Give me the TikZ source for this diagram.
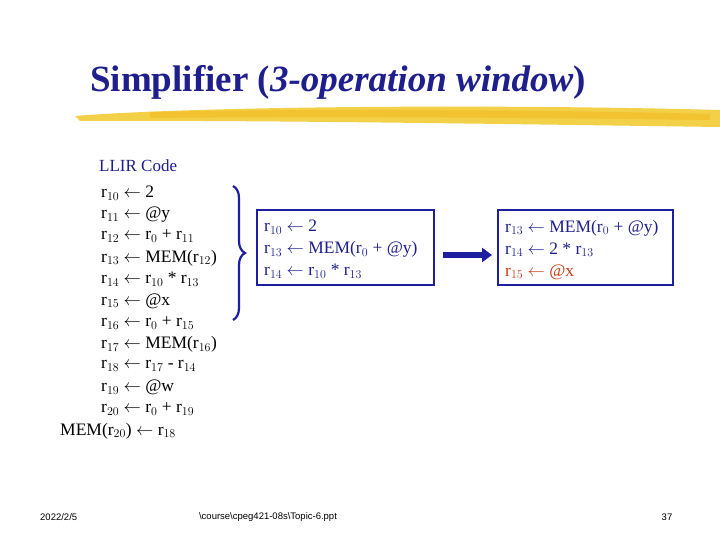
\documentclass[tikz,border=0pt]{standalone}
\usepackage{fontspec}
\setmainfont{Liberation Serif}
\newfontfamily\footfont{Liberation Sans}
\usetikzlibrary{arrows.meta,decorations.pathreplacing}
\definecolor{navy}{RGB}{30,30,140}
\definecolor{boxblue}{RGB}{30,30,160}
\definecolor{ored}{RGB}{200,60,20}
\definecolor{brush}{RGB}{240,200,40}
\tikzset{
 code/.style={anchor=west,font=\fontsize{17.5}{18}\selectfont,inner sep=0pt,text=black},
 btext/.style={font=\fontsize{17.5}{22}\selectfont,text=navy,align=left,inner sep=0pt,anchor=north west},
 frame/.style={draw=boxblue,line width=2pt},
 foot/.style={font=\footfont\fontsize{9.5}{10}\selectfont,inner sep=0pt}
}
\newcommand{\la}{$\leftarrow$}
\begin{document}
\begin{tikzpicture}[x=1pt,y=-1pt]
\useasboundingbox[fill=white] (0,0) rectangle (720,540);
\node[font=\bfseries\fontsize{37}{40}\selectfont,text=navy] (title) at (338,82) {Simplifier (\textit{3-operation window})};
\fill[brush,opacity=0.85] (75,116) .. controls (200,106) and (500,104) .. (720,110) -- (720,127) .. controls (500,124) and (250,120) .. (80,121) -- cycle;
\fill[brush!80!orange,opacity=0.6] (150,112) .. controls (350,108) and (550,110) .. (710,114) -- (710,120) .. controls (550,118) and (350,116) .. (150,118) -- cycle;
\node[anchor=west,font=\fontsize{17}{18}\selectfont,text=navy,inner sep=0pt] (llir) at (99,166) {LLIR Code};
\node[code] (c1) at (101,193.0) {r$_{10}$ \la{} 2};
\node[code] (c2) at (101,214.6) {r$_{11}$ \la{} @y};
\node[code] (c3) at (101,236.3) {r$_{12}$ \la{} r$_0$ + r$_{11}$};
\node[code] (c4) at (101,257.9) {r$_{13}$ \la{} MEM(r$_{12}$)};
\node[code] (c5) at (101,279.5) {r$_{14}$ \la{} r$_{10}$ * r$_{13}$};
\node[code] (c6) at (101,301.2) {r$_{15}$ \la{} @x};
\node[code] (c7) at (101,322.8) {r$_{16}$ \la{} r$_0$ + r$_{15}$};
\node[code] (c8) at (101,344.4) {r$_{17}$ \la{} MEM(r$_{16}$)};
\node[code] (c9) at (101,366.1) {r$_{18}$ \la{} r$_{17}$ - r$_{14}$};
\node[code] (c10) at (101,387.7) {r$_{19}$ \la{} @w};
\node[code] (c11) at (101,409.3) {r$_{20}$ \la{} r$_0$ + r$_{19}$};
\node[code] (c12) at (60,431.0) {MEM(r$_{20}$) \la{} r$_{18}$};
\draw[boxblue,line width=2.2pt,decorate,decoration={brace,amplitude=12pt}] (233,186) -- (233,320);
\node[frame,minimum width=177pt,minimum height=75pt,inner sep=0pt] (b1) at (345.5,247.5) {};
\node[btext] at (264,220) {r$_{10}$ \la{} 2\\ r$_{13}$ \la{} MEM(r$_0$ + @y)\\ r$_{14}$ \la{} r$_{10}$ * r$_{13}$};
\node[frame,minimum width=175pt,minimum height=75pt,inner sep=0pt] (b2) at (585.5,247.5) {};
\node[btext] at (505,220) {r$_{13}$ \la{} MEM(r$_0$ + @y)\\ r$_{14}$ \la{} 2 * r$_{13}$\\ \textcolor{ored}{r$_{15}$ \la{} @x}};
\draw[boxblue,line width=6pt,-{Triangle[length=10pt,width=14pt]}] (443,255) -- (492,255);
\node[foot,anchor=west] (date) at (40,517) {2022/2/5};
\node[foot] (path) at (268,517) {\textbackslash course\textbackslash cpeg421-08s\textbackslash Topic-6.ppt};
\node[foot] (page) at (667,517) {37};
\end{tikzpicture}
\end{document}
